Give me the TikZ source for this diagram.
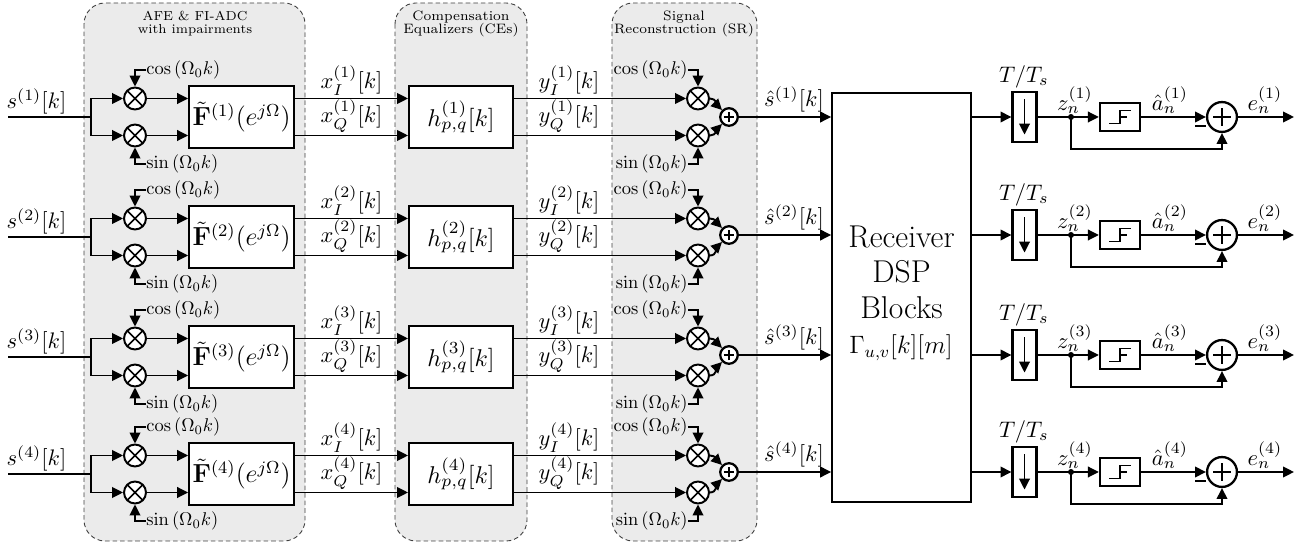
\documentclass[tikz,border=0pt]{standalone}
\usepackage{amsmath,amssymb}
\usepackage{color}
\usetikzlibrary{arrows.meta}
\definecolor{panelgray}{gray}{0.92}
\tikzset{
  blockbox/.style={draw,line width=1.3pt,fill=white,inner sep=0pt},
  panel/.style={draw=black!75,dash pattern=on 2.6pt off 1.7pt,fill=panelgray,rounded corners=12pt,line width=0.5pt},
  mult/.style={draw,circle,line width=1.1pt,fill=white,minimum size=12.5pt,inner sep=0pt,
    path picture={\draw[line width=0.9pt] (path picture bounding box.south west) -- (path picture bounding box.north east)
      (path picture bounding box.north west) -- (path picture bounding box.south east);}},
  adder/.style={draw,circle,line width=1.3pt,fill=white,inner sep=0pt,minimum size=#1,
    path picture={\draw[line width=1.1pt] ([xshift=-0.3*#1]path picture bounding box.center) -- ([xshift=0.3*#1]path picture bounding box.center)
      ([yshift=-0.3*#1]path picture bounding box.center) -- ([yshift=0.3*#1]path picture bounding box.center);}},
  wire/.style={line width=1.1pt},
  arrowwire/.style={wire,-{Triangle[length=6.2pt,width=6pt]}},
  plain/.style={inner sep=0pt},
  mathlabel/.style={inner sep=0pt,scale=1.28},
  lolabel/.style={inner sep=0pt,scale=1.05},
  titlelabel/.style={inner sep=0pt,font=\scriptsize,align=center,scale=#1},
}
\begin{document}
\begin{tikzpicture}[x=0.02cm,y=-0.02cm]
  \useasboundingbox (0,0) rectangle (1309,543);
  % shaded panels
  \draw[panel] (84,3) rectangle (305,541);
  \draw[panel] (395,3) rectangle (527,541);
  \draw[panel] (612,3) rectangle (757,541);
  \node[titlelabel=1.06] (afetitle) at (195,24) {AFE \& FI-ADC\\[-1pt]with impairments};
  \node[titlelabel=1.11] (cetitle) at (461,24) {Compensation\\[-1pt]Equalizers (CEs)};
  \node[titlelabel=1.11] (srtitle) at (684,24) {Signal\\[-1pt]Reconstruction (SR)};
  % receiver
  \node[draw,line width=1.3pt,minimum width=78.8pt,minimum height=232.5pt,inner sep=0pt] (rx) at (901.5,297.5) {};
  \node[plain,font=\LARGE,scale=1.04,align=center] (rxtext) at (901.5,272) {Receiver\\[-2.5pt]DSP\\[-2.5pt]Blocks};
  \node[plain,font=\large,scale=1.19] (rxgamma) at (901,348) {$\Gamma_{u,v}[k][m]$};
  % one row per channel
  \foreach \i/\yl/\yr in {1/117/117,2/237/235,3/357/355,4/474/472}{
    % analog front end
    \coordinate (in\i) at (8,\yl);
    \coordinate (split\i) at (91,\yl);
    \node[mult] (mi\i) at (135,\yl-18.5) {};
    \node[mult] (mq\i) at (135,\yl+18.5) {};
    \node[blockbox,minimum width=59.5pt,minimum height=35pt] (afe\i) at (241.5,\yl) {};
    \node[plain,font=\large,scale=1.24] (afetext\i) at (241.5,\yl) {$\tilde{\mathbf{F}}^{(\i)}(e^{j\Omega})$};
    \node[mathlabel] (slabel\i) at (36.5,\yl-16) {$s^{(\i)}[k]$};
    \draw[wire] (in\i) -- (split\i);
    \draw[arrowwire] (split\i) |- (mi\i);
    \draw[arrowwire] (split\i) |- (mq\i);
    \draw[arrowwire] (mi\i) -- (mi\i-|afe\i.west);
    \draw[arrowwire] (mq\i) -- (mq\i-|afe\i.west);
    \node[lolabel,anchor=west] (coslo\i) at (146,\yl-47) {$\cos\left(\Omega_0 k\right)$};
    \node[lolabel,anchor=west] (sinlo\i) at (146,\yl+47) {$\sin\left(\Omega_0 k\right)$};
    \draw[arrowwire] (coslo\i.west) -| (mi\i);
    \draw[arrowwire] (sinlo\i.west) -| (mq\i);
    % equalizers
    \node[blockbox,minimum width=59pt,minimum height=35pt] (ce\i) at (461,\yl) {};
    \node[plain,scale=1.38] (cetext\i) at (461,\yl) {$h^{(\i)}_{p,q}[k]$};
    \draw[arrowwire] (mi\i-|afe\i.east) -- (mi\i-|ce\i.west) node[midway,above=1pt,mathlabel] (xi\i) {$x^{(\i)}_I[k]$};
    \draw[arrowwire] (mq\i-|afe\i.east) -- (mq\i-|ce\i.west) node[midway,above=1pt,mathlabel] (xq\i) {$x^{(\i)}_Q[k]$};
    % reconstruction
    \node[mult] (ri\i) at (698,\yl-18.5) {};
    \node[mult] (rq\i) at (698,\yl+18.5) {};
    \node[adder=10pt] (sum\i) at (729,\yr) {};
    \draw[arrowwire] (ri\i-|ce\i.east) -- (ri\i) node[pos=0.32,above=1pt,mathlabel] (yi\i) {$y^{(\i)}_I[k]$};
    \draw[arrowwire] (rq\i-|ce\i.east) -- (rq\i) node[pos=0.32,above=1pt,mathlabel] (yq\i) {$y^{(\i)}_Q[k]$};
    \node[lolabel,anchor=east] (cosrx\i) at (688,\yl-47) {$\cos\left(\Omega_0 k\right)$};
    \node[lolabel,anchor=east] (sinrx\i) at (688,\yl+47) {$\sin\left(\Omega_0 k\right)$};
    \draw[arrowwire] (cosrx\i.east) -| (ri\i);
    \draw[arrowwire] (sinrx\i.east) -| (rq\i);
    \draw[arrowwire] (ri\i) to[out=0,in=135] (sum\i);
    \draw[arrowwire] (rq\i) to[out=0,in=-135] (sum\i);
    \draw[arrowwire] (sum\i) -- (sum\i-|rx.west);
    \node[mathlabel] (shat\i) at (794,\yr-18) {$\hat{s}^{(\i)}[k]$};
    % error computation
    \node[blockbox,minimum width=13.6pt,minimum height=28.5pt] (down\i) at (1024.5,\yr) {};
    \node[mathlabel] (ratio\i) at (1024,\yr-40) {$T/T_s$};
    \draw[arrowwire] ([yshift=10pt]down\i.center) -- ([yshift=-10pt]down\i.center);
    \draw[arrowwire] (down\i-|rx.east) -- (down\i);
    \node[blockbox,minimum width=22.8pt,minimum height=15.9pt] (slicer\i) at (1120,\yr) {};
    \draw[line width=0.9pt] ([shift={(-6.2pt,-3.7pt)}]slicer\i.center) -- ++(6.2pt,0) -- ++(0,7.4pt) -- ++(6.2pt,0);
    \draw[line width=0.9pt] (slicer\i.center) -- ++(4pt,0);
    \node[adder=17pt] (err\i) at (1222,\yr) {};
    \fill (1071,\yr) circle (1.7pt) coordinate (tap\i);
    \draw[wire] (down\i) -- (tap\i);
    \draw[arrowwire] (tap\i) -- (slicer\i);
    \draw[arrowwire] (slicer\i) -- (err\i);
    \draw[arrowwire] (tap\i) |- (1222,\yr+32) -- (err\i);
    \coordinate (outend\i) at (1294,\yr);
    \draw[arrowwire] (err\i) -- (outend\i);
    \node[plain] (minus\i) at (1200.5,\yr+8.7) {\rule{5.8pt}{1.2pt}};
    \node[mathlabel] (zlabel\i) at (1075,\yr-17) {$z^{(\i)}_n$};
    \node[mathlabel] (alabel\i) at (1170,\yr-17) {$\hat{a}^{(\i)}_n$};
    \node[mathlabel] (elabel\i) at (1265,\yr-17) {$e^{(\i)}_n$};
  }
\end{tikzpicture}
\end{document}
